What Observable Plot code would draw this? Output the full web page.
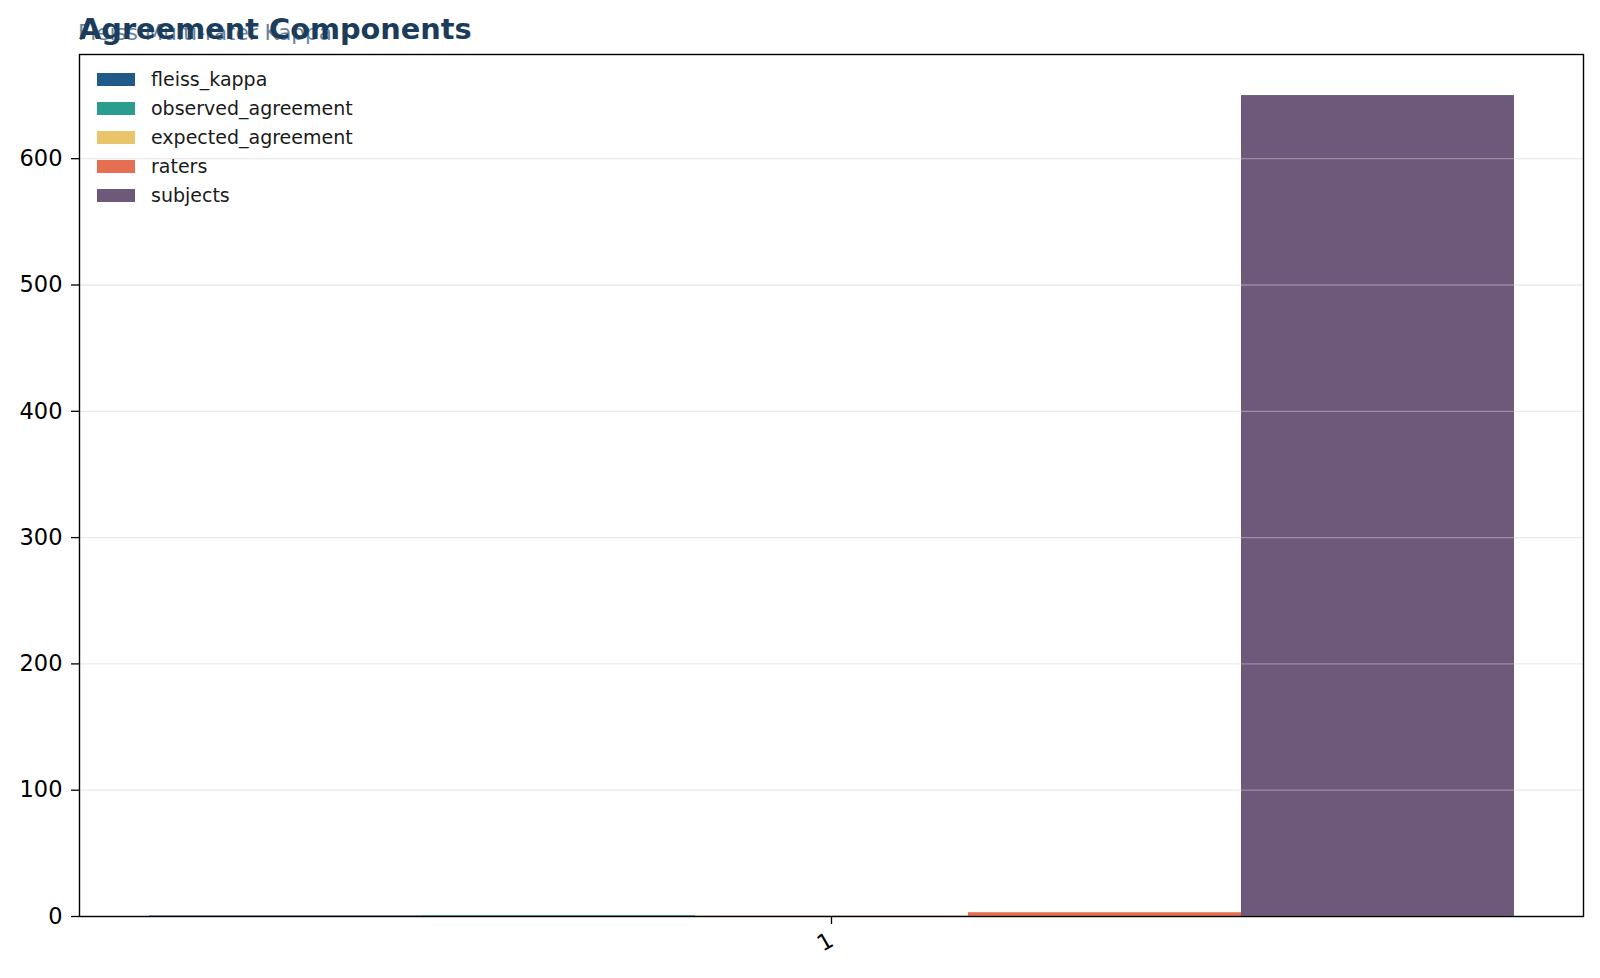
<!DOCTYPE html>
<html>
<head>
<meta charset="utf-8">
<script src="https://cdn.jsdelivr.net/npm/d3@7"></script>
<script src="https://cdn.jsdelivr.net/npm/@observablehq/plot@0.6"></script>
<style>
  html, body { margin: 0; padding: 0; background: #fff; }
  #wrap { position: relative; width: 1600px; height: 978px; font-family: "DejaVu Sans", sans-serif; }
  #subtitle { position: absolute; left: 78px; top: 22px; font-size: 21.5px; line-height: 21.5px; color: #4f6f8f; opacity: 0.85; white-space: nowrap; }
  #title { position: absolute; left: 79px; top: 15px; font-size: 28.8px; line-height: 28.8px; font-weight: bold; color: #1b3d5b; white-space: nowrap; }
  #legend { position: absolute; left: 97px; top: 65px; font-size: 19px; color: #1a1a1a; }
  .row { display: flex; align-items: center; height: 28.9px; }
  .sw { width: 38px; height: 13px; margin-right: 16px; }
  #chart { position: absolute; left: 0; top: 0; }
</style>
</head>
<body>
<div id="wrap">
  <div id="chart"></div>
  <div id="subtitle"></div>
  <div id="title"></div>
  <div id="legend"></div>
</div>
<script>
const titleText = "Agreement Components";
const subtitleText = "Fleiss Multi-rater Kappa";
const categories = ["1"];
const seriesNames = ["fleiss_kappa", "observed_agreement", "expected_agreement", "raters", "subjects"];
const seriesValues = [0.42, 0.68, 0.45, 3, 650];
const seriesColors = ["#1f5a88", "#2a9d8f", "#e9c46a", "#e76f51", "#6d5a7b"];
const yTicks = [0, 100, 200, 300, 400, 500, 600];

const data = seriesNames.map((s, i) => ({ cat: categories[0], series: s, value: seriesValues[i] }));

document.getElementById("title").textContent = titleText;
document.getElementById("subtitle").textContent = subtitleText;

const legend = document.getElementById("legend");
seriesNames.forEach((s, i) => {
  const row = document.createElement("div");
  row.className = "row";
  const sw = document.createElement("div");
  sw.className = "sw";
  sw.style.background = seriesColors[i];
  const label = document.createElement("span");
  label.textContent = s;
  row.appendChild(sw);
  row.appendChild(label);
  legend.appendChild(row);
});

const chart = Plot.plot({
  width: 1600,
  height: 978,
  marginTop: 54,
  marginBottom: 62,
  marginLeft: 79,
  marginRight: 17,
  style: { fontFamily: "DejaVu Sans, sans-serif", fontSize: "22px", color: "#000", background: "transparent" },
  fx: { domain: categories, padding: 0, label: null, axis: null },
  x: { domain: seriesNames, paddingInner: 0, paddingOuter: 0.25, axis: null },
  y: { domain: [0, d3.max(seriesValues) * 1.05], label: null },
  color: { domain: seriesNames, range: seriesColors },
  marks: [
    Plot.barY(data, { fx: "cat", x: "series", y: "value", fill: "series", inset: 0 }),
    Plot.gridY(yTicks, { stroke: "#d0d0d0", strokeOpacity: 0.45, strokeWidth: 1.3 }),
    Plot.axisY({ ticks: yTicks, tickSize: 8, tickPadding: 9, label: null, fontSize: 22.5, strokeWidth: 1.3 }),
    Plot.axisFx({ anchor: "bottom", tickSize: 8, tickPadding: 14, tickRotate: -30, label: null, fontSize: 22.5, strokeWidth: 1.3 }),
    Plot.frame({ stroke: "#000", strokeWidth: 1.4 })
  ]
});
document.getElementById("chart").appendChild(chart);
</script>
</body>
</html>
